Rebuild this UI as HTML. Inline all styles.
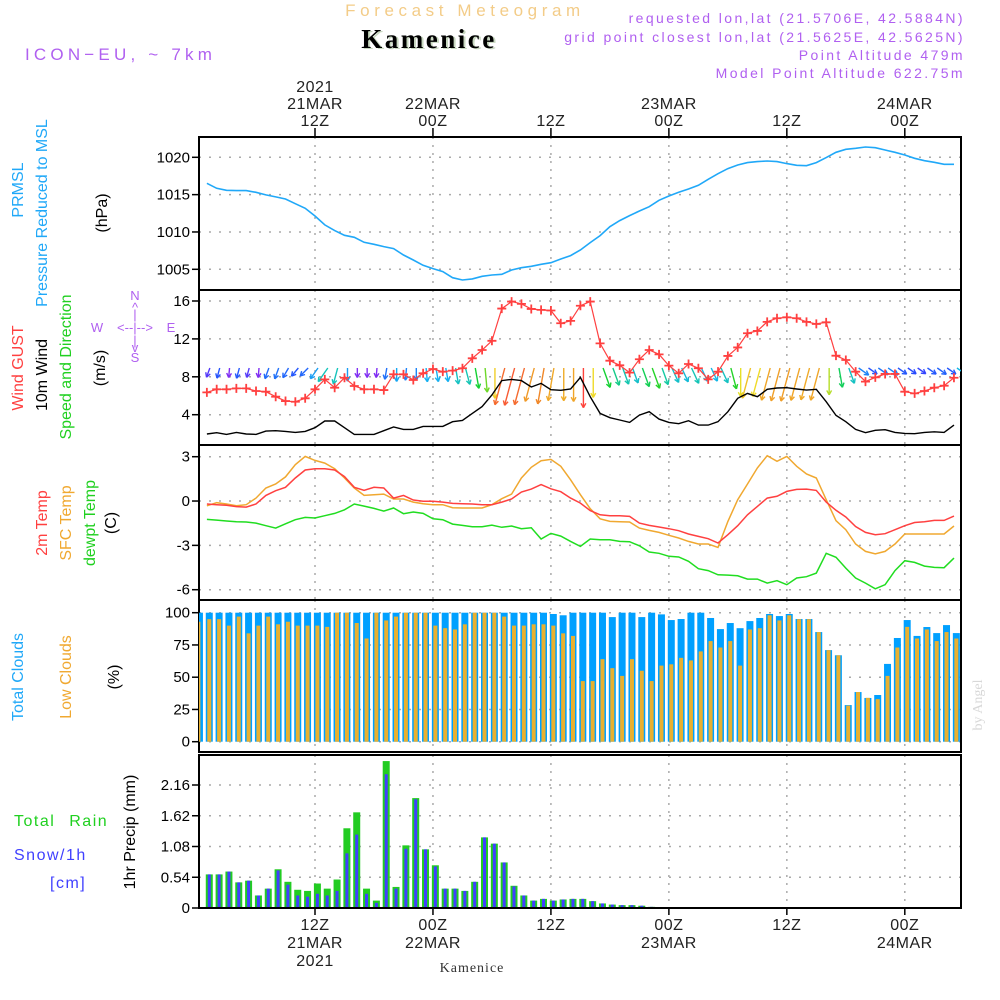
<!DOCTYPE html>
<html><head><meta charset="utf-8"><style>
body{margin:0;background:#fff;}
svg{display:block;font-family:"Liberation Sans",sans-serif;}
</style></head><body>
<svg id="chart" width="1000" height="1000" viewBox="0 0 1000 1000" xmlns="http://www.w3.org/2000/svg">
<g id="header">
<text x="465" y="16" text-anchor="middle" font-size="17" fill="#f3cc88" letter-spacing="4.6">Forecast Meteogram</text>
<text x="431" y="49" text-anchor="middle" font-size="27" font-weight="bold" font-family="Liberation Serif, serif" fill="#c8d8c0" letter-spacing="2.5">Kamenice</text>
<text x="429" y="48" text-anchor="middle" font-size="27" font-weight="bold" font-family="Liberation Serif, serif" fill="#000" letter-spacing="2.5">Kamenice</text>
<text x="25" y="60" font-size="17" fill="#b060f0" letter-spacing="4.2">ICON−EU, ~ 7km</text>
<text x="965" y="23" text-anchor="end" font-size="14" fill="#b060f0" letter-spacing="2.4">requested lon,lat (21.5706E, 42.5884N)</text>
<text x="965" y="42" text-anchor="end" font-size="14" fill="#b060f0" letter-spacing="2.4">grid point closest lon,lat (21.5625E, 42.5625N)</text>
<text x="965" y="60" text-anchor="end" font-size="14" fill="#b060f0" letter-spacing="2.4">Point Altitude 479m</text>
<text x="965" y="78" text-anchor="end" font-size="14" fill="#b060f0" letter-spacing="2.4">Model Point Altitude 622.75m</text>
</g>
<g id="labels" font-size="16">
<text transform="translate(23,190) rotate(-90)" text-anchor="middle" fill="#20a8f8">PRMSL</text>
<text transform="translate(47,213) rotate(-90)" text-anchor="middle" fill="#20a8f8">Pressure Reduced to MSL</text>
<text transform="translate(107,213) rotate(-90)" text-anchor="middle" fill="#000">(hPa)</text>
<text transform="translate(23,368) rotate(-90)" text-anchor="middle" fill="#ff4040">Wind GUST</text>
<text transform="translate(47,375) rotate(-90)" text-anchor="middle" fill="#000">10m Wind</text>
<text transform="translate(71,367) rotate(-90)" text-anchor="middle" fill="#20d020">Speed and Direction</text>
<text transform="translate(105,368) rotate(-90)" text-anchor="middle" fill="#000">(m/s)</text>
<g fill="#b060f0" font-size="13" text-anchor="middle">
<text x="135" y="300">N</text><text x="135" y="312">^</text><text x="135" y="319">|</text>
<text x="135" y="332">&lt;--|--&gt;</text>
<text x="97" y="332">W</text><text x="171" y="332">E</text>
<text x="135" y="345">|</text><text x="135" y="352">v</text><text x="135" y="362">S</text>
</g>
<text transform="translate(47,523) rotate(-90)" text-anchor="middle" fill="#ff4040">2m Temp</text>
<text transform="translate(71,523) rotate(-90)" text-anchor="middle" fill="#f0a830">SFC Temp</text>
<text transform="translate(95,523) rotate(-90)" text-anchor="middle" fill="#20d020">dewpt Temp</text>
<text transform="translate(116,523) rotate(-90)" text-anchor="middle" fill="#000">(C)</text>
<text transform="translate(23,677) rotate(-90)" text-anchor="middle" fill="#20a8f8">Total Clouds</text>
<text transform="translate(71,677) rotate(-90)" text-anchor="middle" fill="#f0a830">Low Clouds</text>
<text transform="translate(119,677) rotate(-90)" text-anchor="middle" fill="#000">(%)</text>
<text x="14" y="826" fill="#20d020" letter-spacing="1.5" word-spacing="8">Total Rain</text>
<text x="14" y="860" fill="#4040ff" letter-spacing="1.5">Snow/1h</text>
<text x="50" y="888" fill="#4040ff" letter-spacing="1.5">[cm]</text>
<text transform="translate(135,832) rotate(-90)" text-anchor="middle" fill="#000">1hr Precip (mm)</text>
<text transform="translate(982,705) rotate(-90)" text-anchor="middle" font-family="Liberation Serif, serif" font-size="14" fill="#d8d8d8">by Angel</text>
<text x="472" y="972" text-anchor="middle" font-family="Liberation Serif, serif" font-size="14" fill="#333" letter-spacing="1">Kamenice</text>
</g>
<g id="plots"></g>
</svg>
<script>
const hours = Array.from({length:77},(_,i)=>i+1);
const pressure = [1016.52,1015.85,1015.58,1015.54,1015.54,1015.31,1014.96,1014.69,1014.42,1013.79,1013.17,1012.14,1010.94,1010.18,1009.55,1009.29,1008.62,1008.35,1008.04,1007.77,1006.92,1006.25,1005.54,1005.09,1004.69,1003.88,1003.57,1003.71,1004.06,1004.24,1004.33,1004.91,1005.22,1005.4,1005.67,1005.89,1006.38,1006.83,1007.59,1008.57,1009.51,1010.71,1011.52,1012.19,1012.81,1013.39,1014.24,1014.82,1015.31,1015.76,1016.25,1017.05,1017.81,1018.48,1018.97,1019.29,1019.42,1019.51,1019.42,1019.15,1018.93,1018.88,1019.29,1019.96,1020.67,1021.07,1021.21,1021.38,1021.29,1020.98,1020.67,1020.31,1019.87,1019.55,1019.33,1019.06,1019.06];
const gust = [6.36,6.68,6.68,6.78,6.78,6.5,6.43,5.9,5.44,5.37,5.73,6.68,7.73,6.85,7.9,7.03,6.68,6.68,6.6,8.26,8.26,7.66,8.37,8.82,8.54,8.65,8.9,9.95,10.83,11.8,15.2,15.94,15.7,15.16,15.06,15.0,13.65,13.9,15.5,15.94,11.53,9.70,9.21,8.44,9.85,10.83,10.37,9.18,8.37,9.35,8.9,7.73,8.54,10.2,11.1,12.6,12.84,13.8,14.18,14.28,14.18,13.8,13.58,13.75,10.23,9.77,8.54,7.49,7.94,8.3,8.3,6.43,6.25,6.5,6.85,7.06,7.9];
const windSpeed = [1.96,2.1,1.92,2.13,1.96,1.92,2.27,2.31,2.24,2.13,2.24,2.63,3.33,3.33,2.63,1.92,1.92,1.92,2.31,2.7,2.45,2.45,2.77,2.77,2.77,3.26,3.4,4.14,4.85,6.08,7.6,7.73,7.6,6.92,7.3,6.64,6.57,6.71,7.94,5.9,4.14,3.68,3.44,3.19,3.96,4.32,3.54,3.19,3.05,3.37,2.9,2.9,3.26,4.32,5.73,6.25,5.9,6.68,6.82,6.85,6.71,6.6,6.68,5.37,3.93,3.26,2.45,2.1,2.35,2.42,2.13,2.03,1.99,2.13,2.2,2.13,2.9];
const windHeading = [200,195,185,195,195,185,200,200,210,220,225,215,215,195,180,180,180,185,190,180,185,180,175,170,170,170,165,170,175,180,195,195,195,195,190,190,180,180,180,180,160,160,160,160,160,160,160,155,155,155,155,155,155,165,180,195,195,195,195,195,195,195,195,180,170,160,125,125,125,125,125,125,125,125,125,125,125];
const temp2m = [-0.2,-0.25,-0.29,-0.38,-0.41,-0.2,0.38,0.70,0.93,1.56,2.1,2.19,2.19,2.1,1.65,0.93,0.72,0.93,0.88,0.2,0.38,0.07,-0.02,-0.02,-0.07,-0.16,-0.18,-0.2,-0.25,-0.25,-0.07,0.14,0.61,0.81,1.11,0.83,0.63,0.2,-0.14,-0.65,-0.93,-0.99,-0.99,-1.04,-1.49,-1.65,-1.76,-1.87,-2.01,-2.23,-2.39,-2.55,-2.84,-2.28,-1.67,-0.93,-0.36,0.2,0.32,0.65,0.79,0.81,0.72,-0.07,-0.63,-1.08,-1.72,-2.12,-2.28,-2.21,-1.94,-1.67,-1.45,-1.4,-1.31,-1.31,-1.02];
const tempSfc = [-0.32,-0.11,-0.2,-0.32,-0.25,0.2,0.88,1.15,1.63,2.46,3.02,2.75,2.57,2.19,1.56,0.88,0.38,0.43,0.47,0.14,0.14,-0.07,-0.18,-0.25,-0.25,-0.45,-0.47,-0.47,-0.47,-0.25,0.16,0.47,1.56,2.28,2.73,2.82,2.35,1.44,0.43,-0.52,-1.2,-1.38,-1.4,-1.42,-1.83,-1.99,-2.12,-2.32,-2.5,-2.73,-2.91,-2.91,-3.14,-1.38,0.09,1.15,2.24,3.07,2.69,3.02,2.35,1.83,1.56,0.09,-1.33,-1.94,-2.91,-3.41,-3.57,-3.41,-2.91,-2.23,-2.23,-2.23,-2.23,-2.23,-1.69];
const dewpt = [-1.24,-1.29,-1.35,-1.4,-1.42,-1.49,-1.67,-1.83,-1.54,-1.26,-1.11,-1.15,-0.99,-0.84,-0.59,-0.2,-0.34,-0.5,-0.68,-0.47,-0.86,-0.74,-0.84,-1.2,-1.26,-1.56,-1.65,-1.74,-1.74,-1.63,-1.78,-1.69,-1.87,-1.81,-2.57,-2.19,-2.37,-2.73,-3.07,-2.57,-2.62,-2.62,-2.73,-2.75,-3.03,-3.45,-3.54,-3.74,-3.79,-4.08,-4.58,-4.71,-4.99,-5.01,-5.06,-5.28,-5.28,-5.55,-5.39,-5.66,-5.21,-5.12,-4.88,-3.54,-3.81,-4.54,-5.21,-5.55,-5.94,-5.66,-4.71,-4.04,-4.15,-4.4,-4.49,-4.51,-3.86];
const totalClouds = [100,100,100,100,100,100,100,100,100,100,100,100,100,100,100,100,100,100,100,100,100,100,100,100,100,100,100,100,100,100,100,100,100,100,100,99,98,100,100,100,100,96.6,100,100,96.6,100,98.7,94.3,95.1,100,100,95.9,87.3,92,88,93.5,95.9,99,97.4,99,95.1,95.1,85,71,67,28.4,38.5,33.9,36.2,60.3,80.4,94.3,82,88.9,84.2,90.4,84.2];
const lowClouds = [95,95,90,97,84,90,97,91,93,90,90,90,89,100,100,92,80,100,94,97,100,100,100,90,88,87,91,100,100,100,97,90,90,91,91,90,84,82,47,47,64,57,51,64,55,47,59,60,65,63,70,78,73,78,59,87,88,98,94,98,95,95,85,71,67,28,38.5,34,33,51,73,89,80,87,78,85,80];
const totalPrecip = [0.59,0.59,0.64,0.45,0.48,0.22,0.34,0.68,0.46,0.32,0.30,0.43,0.34,0.50,1.40,1.68,0.34,0.13,2.58,0.37,1.10,1.93,1.03,0.75,0.34,0.34,0.30,0.46,1.24,1.13,0.80,0.39,0.22,0.13,0.16,0.13,0.15,0.16,0.16,0.12,0.08,0.06,0.05,0.05,0.04,0.02,0.01,0.01,0.01,0.01,0,0,0.01,0.01,0.01,0,0,0,0,0.01,0,0,0,0,0,0,0,0,0,0,0,0,0,0,0,0,0];
const snowPrecip = [0.59,0.59,0.64,0.45,0.48,0.22,0.34,0.66,0.41,0.22,0.20,0.25,0.22,0.30,0.96,1.29,0.25,0.09,2.35,0.34,1.04,1.91,1.03,0.73,0.34,0.34,0.30,0.46,1.24,1.13,0.80,0.38,0.22,0.13,0.16,0.13,0.15,0.16,0.16,0.12,0.08,0.06,0.05,0.05,0.04,0.02,0.01,0.01,0.01,0.01,0,0,0.01,0.01,0.01,0,0,0,0,0.01,0,0,0,0,0,0,0,0,0,0,0,0,0,0,0,0,0];
const timeTicks = [12,24,36,48,60,72];
const topTickLabels = [["2021","21MAR","12Z"],["22MAR","00Z"],["12Z"],["23MAR","00Z"],["12Z"],["24MAR","00Z"]];
const bottomTickLabels = [["12Z","21MAR","2021"],["00Z","22MAR"],["12Z"],["00Z","23MAR"],["12Z"],["00Z","24MAR"]];
const pTicks = [1005,1010,1015,1020];
const wTicks = [4,8,12,16];
const tTicks = [-6,-3,0,3];
const cTicks = [0,25,50,75,100];
const prTicks = [0,0.54,1.08,1.62,2.16];

const NS='http://www.w3.org/2000/svg';
const root=document.getElementById('plots');
function el(tag,attrs,parent){const e=document.createElementNS(NS,tag);for(const k in attrs)e.setAttribute(k,attrs[k]);(parent||root).appendChild(e);return e;}
const X0=199,X1=961;
const xT=h=>315+(h-12)*9.83;
const xB=h=>xT(h)+2.4;
function lin(v0,p0,v1,p1){return v=>p0+(v-v0)*(p1-p0)/(v1-v0);}
const yP=lin(1005,269.3,1020,157.3);
const yW=lin(4,414.7,16,301);
const yT=lin(-6,589.7,3,456.7);
const yC=lin(0,741.7,100,612.7);
const yR=lin(0,908,2.16,785);
const panels=[
 {name:'pressure',top:137,bot:290,ticks:pTicks,y:yP},
 {name:'wind',top:290,bot:445,ticks:wTicks,y:yW},
 {name:'temperature',top:445,bot:600,ticks:tTicks,y:yT},
 {name:'clouds',top:600,bot:752,ticks:cTicks,y:yC},
 {name:'precip',top:755,bot:908,ticks:prTicks,y:yR}];
panels.forEach(p=>{
 const g=el('g',{});
 
 
 const cp=el('clipPath',{id:'clip-'+p.name},g);
 el('rect',{x:X0,y:p.top,width:X1-X0,height:p.bot-p.top},cp);
 timeTicks.forEach(h=>{const l=el('line',{x1:xT(h),x2:xT(h),y1:p.top,y2:p.bot,stroke:'#aaa','stroke-width':1.5,'stroke-dasharray':'2,6'},g);
  
  });
 p.ticks.forEach(v=>{const yy=p.y(v);
  const gl=el('line',{x1:X0,x2:X1,y1:yy,y2:yy,stroke:'#aaa','stroke-width':1.5,'stroke-dasharray':'2,8'},g);
  
  
  el('line',{x1:X0-7,x2:X0,y1:yy,y2:yy,stroke:'#000','stroke-width':1.5},g);
  const t=el('text',{x:X0-9,y:yy+5,'text-anchor':'end','font-size':15,fill:'#000'},g);
  t.textContent=(p.name==='precip'&&v!==0)?v.toFixed(2):String(v);
  
  });
 const fr=el('rect',{x:X0,y:p.top,width:X1-X0,height:p.bot-p.top,fill:'none',stroke:'#000','stroke-width':2},g);
 
 
 p.g=el('g',{'clip-path':'url(#clip-'+p.name+')'},g);
});
function line(vals,y,color,name,g,w){
 const d=vals.map((v,i)=>(i?'L':'M')+xT(hours[i]).toFixed(1)+','+y(v).toFixed(1)).join('');
 const p=el('path',{d:d,fill:'none',stroke:color,'stroke-width':w||1.5},g);
 
 
}
line(pressure,yP,'#20a8f8','pressure-line',panels[0].g,1.6);
const wg=panels[1].g;
const hueStops=[[1.9,[150,40,240]],[2.0,[40,70,255]],[2.8,[20,180,240]],[3.5,[20,200,170]],[4.2,[20,210,40]],[5.8,[240,225,40]],[6.6,[240,170,40]],[7.4,[240,130,40]],[8.0,[255,60,60]]];
function spdColor(s){
 if(s<=hueStops[0][0])return 'rgb('+hueStops[0][1]+')';
 for(let i=1;i<hueStops.length;i++){if(s<=hueStops[i][0]){const a=hueStops[i-1],b=hueStops[i],t=(s-a[0])/(b[0]-a[0]);return 'rgb('+a[1].map((c,k)=>Math.round(c+(b[1][k]-c)*t)).join(',')+')';}}
 return 'rgb('+hueStops[hueStops.length-1][1]+')';
}
windHeading.forEach((a,i)=>{
 const s=windSpeed[i],L=5*s,x0=xT(hours[i])+3,y0=368,r=a*Math.PI/180;
 const x1=x0+L*Math.sin(r),y1=y0-L*Math.cos(r);
 const c=spdColor(s);
 const ga=el('g',{stroke:c,'stroke-width':1.4,fill:'none'},wg);
 
 
 el('line',{x1:x0,y1:y0,x2:x1,y2:y1},ga);
 [r+Math.PI-0.5,r+Math.PI+0.5].forEach(b=>el('line',{x1:x1,y1:y1,x2:x1+5*Math.sin(b),y2:y1-5*Math.cos(b)},ga));
});
line(windSpeed,yW,'#000','wind-speed-line',wg,1.4);
line(gust,yW,'#ff4040','wind-gust-line',wg,1.2);
gust.forEach((v,i)=>{const x=xT(hours[i]),y=yW(v);
 const c=el('path',{d:`M${x-4.5},${y}H${x+4.5}M${x},${y-4.5}V${y+4.5}`,stroke:'#ff4040','stroke-width':1.8},wg);
 
 });
line(dewpt,yT,'#20dd20','dewpoint-line',panels[2].g);
line(tempSfc,yT,'#f0a830','sfc-temp-line',panels[2].g);
line(temp2m,yT,'#ff4040','temp-2m-line',panels[2].g);
const cg=panels[3].g;
function bar(g,x,w,y0,y1,color,name){const r=el('rect',{x:x-w/2,y:Math.min(y0,y1),width:w,height:Math.abs(y1-y0),fill:color},g);
 
 }
bar(cg,xB(0),7,yC(0),yC(100),'#00a0ff','total-cloud-bar');
bar(cg,xB(0)-1,4,yC(0),yC(93),'#e8b030','low-cloud-bar');
totalClouds.forEach((v,i)=>{bar(cg,xB(hours[i]),7,yC(0),yC(v),'#00a0ff','total-cloud-bar');
 bar(cg,xB(hours[i]),4,yC(0),yC(lowClouds[i]),'#e8b030','low-cloud-bar');});
const rg=panels[4].g;
totalPrecip.forEach((v,i)=>{if(v>0){bar(rg,xB(hours[i]),7,yR(0),yR(v),'#22cc22','rain-bar');
 bar(rg,xB(hours[i]),3,yR(0),yR(snowPrecip[i]),'#4040ff','snow-bar');}});
el('line',{x1:X0,x2:X1,y1:908,y2:908,stroke:'#000','stroke-width':2});
timeTicks.forEach((h,i)=>{const x=xT(h);
 el('line',{x1:x,x2:x,y1:128,y2:137,stroke:'#000','stroke-width':1.5});
 el('line',{x1:x,x2:x,y1:908,y2:915,stroke:'#000','stroke-width':1.5});
 const tl=topTickLabels[i];
 tl.forEach((s,k)=>{const t=el('text',{x:x,y:126-(tl.length-1-k)*17,'text-anchor':'middle','font-size':16,fill:'#222','letter-spacing':'0.5'});
  t.textContent=s;
  
  });
 bottomTickLabels[i].forEach((s,k)=>{const t=el('text',{x:x,y:930+k*18,'text-anchor':'middle','font-size':16,fill:'#222','letter-spacing':'0.5'});
  t.textContent=s;
  
  });
});
</script>
</body></html>
